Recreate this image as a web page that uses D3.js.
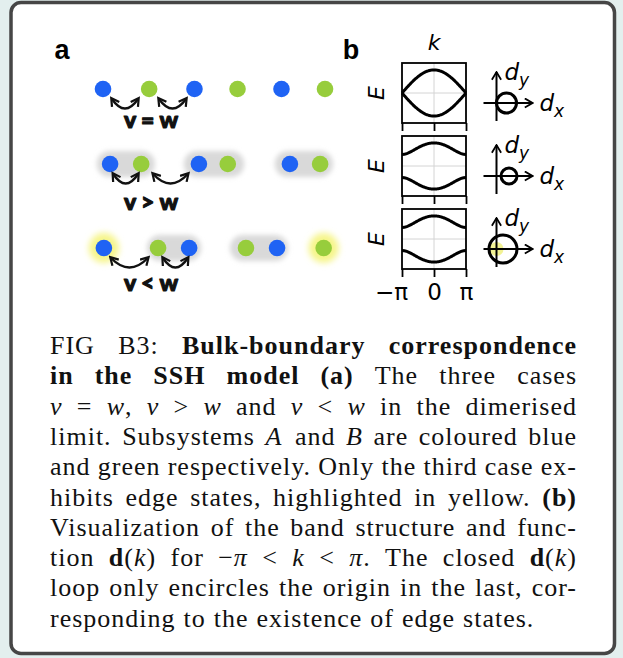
<!DOCTYPE html>
<html>
<head>
<meta charset="utf-8">
<script src="https://cdn.jsdelivr.net/npm/d3@7"></script>
<style>
  html, body { margin: 0; padding: 0; background: #e3efee; }
  svg { display: block; }
</style>
</head>
<body>
<svg width="623" height="658"></svg>
<script>
// ---- data ----
// panel a: site positions along each chain (in lattice units), A = blue, B = green
var chainSites = [
  [0, 1.04, 2.06, 3.03, 4.02, 5],
  [0.16, 0.86, 2.16, 2.81, 4.21, 4.89],
  [0.02, 1.24, 1.94, 3.22, 3.92, 4.97]
];
var chainKinds = [
  ["A", "B", "A", "B", "A", "B"],
  ["A", "B", "A", "B", "A", "B"],
  ["A", "B", "A", "B", "A", "B"]
];
var chainLabels = ["v = w", "v > w", "v < w"];
// hopping arrows [from, to]
var hopArrows = [
  [[0.2, 0.79], [1.26, 1.87]],
  [[0.23, 0.79], [1.13, 1.91]],
  [[0.18, 1.01], [1.35, 1.91]]
];
// dimer bubbles [from, to]
var dimers = [
  [],
  [[-0.14, 1.17], [1.82, 3.18], [3.87, 5.18]],
  [[0.99, 2.21], [2.86, 4.17]]
];
// edge states (site index)
var edgeStates = [[], [], [0, 5]];

// panel b: hoppings for the band plots and d(k) loops
var bandV = [1, 1.5, 0.5];
var bandW = [1, 0.5, 1.5];
var loopV = [1, 1.25, 0.65];
var loopW = [1, 0.8, 1.4];
var kTicks = [-Math.PI, 0, Math.PI];
var kTickLabels = ["\u2212\u03c0", "0", "\u03c0"];

// caption, one entry per printed line (*italic*, **bold**)
var captionLines = [
  "FIG B3: **Bulk-boundary** **correspondence**",
  "**in** **the** **SSH** **model** **(a)** The three cases",
  "*v* = *w*, *v* > *w* and *v* < *w* in the dimerised",
  "limit. Subsystems *A* and *B* are coloured blue",
  "and green respectively. Only the third case ex-",
  "hibits edge states, highlighted in yellow. **(b)**",
  "Visualization of the band structure and func-",
  "tion **d**(*k*) for \u2212*\u03c0* < *k* < *\u03c0*. The closed **d**(*k*)",
  "loop only encircles the origin in the last, cor-",
  "responding to the existence of edge states."
];

var svg = d3.select("svg");
var colA = "#1f63f4", colB = "#97cd3c";

// frame
svg.append("rect")
  .attr("x", 11).attr("y", 2.5)
  .attr("width", 603.5).attr("height", 651)
  .attr("rx", 10)
  .attr("fill", "#fff")
  .attr("stroke", "#464646")
  .attr("stroke-width", 3.5);

var defs = svg.append("defs");
defs.append("filter").attr("id", "blur").attr("x", -0.3).attr("y", -0.5).attr("width", 1.6).attr("height", 2)
  .append("feGaussianBlur").attr("stdDeviation", 2.5);
defs.append("filter").attr("id", "glow").attr("x", -0.5).attr("y", -0.5).attr("width", 2).attr("height", 2)
  .append("feGaussianBlur").attr("stdDeviation", 3);
defs.append("marker")
  .attr("id", "hook")
  .attr("viewBox", "0 0 10 10")
  .attr("refX", 7).attr("refY", 5)
  .attr("markerWidth", 4.6).attr("markerHeight", 4.6)
  .attr("markerUnits", "strokeWidth")
  .attr("orient", "auto-start-reverse")
  .append("path")
  .attr("d", "M1,1 L8,5 L1,9")
  .attr("fill", "none")
  .attr("stroke", "#111")
  .attr("stroke-width", 2);
defs.append("marker")
  .attr("id", "axArrow")
  .attr("viewBox", "0 0 10 10")
  .attr("refX", 9).attr("refY", 5)
  .attr("markerWidth", 5.5).attr("markerHeight", 5.5)
  .attr("markerUnits", "strokeWidth")
  .attr("orient", "auto")
  .append("path")
  .attr("d", "M2,0.8 L9,5 L2,9.2")
  .attr("fill", "none")
  .attr("stroke", "#000")
  .attr("stroke-width", 1.6);

// panel labels
svg.append("text").attr("x", 62).attr("y", 59).text("a")
  .attr("font-family", "Liberation Sans, Arial, sans-serif").attr("font-weight", "bold").attr("font-size", 27)
  .attr("text-anchor", "middle");
svg.append("text").attr("x", 351).attr("y", 59).text("b")
  .attr("font-family", "Liberation Sans, Arial, sans-serif").attr("font-weight", "bold").attr("font-size", 27)
  .attr("text-anchor", "middle");

// ---- panel a ----
var x = d3.scaleLinear().domain([0, 5]).range([103, 325]);
var rowY = [89, 164, 248];
var labelY = [128, 210, 291];

chainSites.forEach(function (sites, r) {
  var g = svg.append("g");
  var y0 = rowY[r];

  g.selectAll("rect.dimer")
    .data(dimers[r])
    .enter().append("rect")
    .attr("class", "dimer")
    .attr("x", function (d) { return x(d[0]); })
    .attr("y", y0 - 13)
    .attr("width", function (d) { return x(d[1]) - x(d[0]); })
    .attr("height", 26)
    .attr("rx", 13)
    .attr("fill", "#d9d9d9")
    .attr("filter", "url(#blur)");

  g.selectAll("circle.edge")
    .data(edgeStates[r])
    .enter().append("circle")
    .attr("class", "edge")
    .attr("cx", function (d) { return x(sites[d]); })
    .attr("cy", y0)
    .attr("r", 15)
    .attr("fill", "#f6f58a")
    .attr("filter", "url(#glow)");

  g.selectAll("circle.site")
    .data(sites)
    .enter().append("circle")
    .attr("class", "site")
    .attr("cx", function (d) { return x(d); })
    .attr("cy", y0)
    .attr("r", 8.3)
    .attr("fill", function (d, i) { return chainKinds[r][i] == "A" ? colA : colB; });

  g.selectAll("path.hop")
    .data(hopArrows[r])
    .enter().append("path")
    .attr("class", "hop")
    .attr("d", function (d) {
      var x1 = x(d[0]), x2 = x(d[1]), ya = y0 + 10;
      return "M" + x1 + "," + ya + " Q" + (x1 + x2) / 2 + "," + (ya + 19) + " " + x2 + "," + ya;
    })
    .attr("fill", "none")
    .attr("stroke", "#111")
    .attr("stroke-width", 2.4)
    .attr("marker-start", "url(#hook)")
    .attr("marker-end", "url(#hook)");

  g.append("text")
    .attr("x", 151).attr("y", labelY[r])
    .attr("text-anchor", "middle")
    .attr("font-family", "Lato, sans-serif")
    .attr("font-weight", 900)
    .attr("font-size", 23)
    .attr("fill", "#111")
    .attr("stroke", "#111")
    .attr("stroke-width", 1.1)
    .attr("stroke-linejoin", "round")
    .text(chainLabels[r]);
});

// ---- panel b ----
var boxTop = [63, 136, 209];
var boxH = 60;
var kx = d3.scaleLinear().domain([-Math.PI, Math.PI]).range([402, 466]);
var kSamples = d3.range(-Math.PI, Math.PI + 1e-9, Math.PI / 60);
var sans = "DejaVu Sans, sans-serif";

svg.append("text")
  .attr("x", 434).attr("y", 50)
  .attr("text-anchor", "middle")
  .attr("font-family", sans).attr("font-style", "italic").attr("font-size", 22)
  .text("k");

bandV.forEach(function (v, i) {
  var w = bandW[i];
  var top = boxTop[i];
  var ey = d3.scaleLinear().domain([-2.6, 2.6]).range([top + boxH, top]);
  var g = svg.append("g");

  // grid
  g.append("line").attr("x1", kx(0)).attr("x2", kx(0)).attr("y1", top).attr("y2", top + boxH)
    .attr("stroke", "#d4d4d4").attr("stroke-width", 1);
  g.append("line").attr("x1", kx.range()[0]).attr("x2", kx.range()[1]).attr("y1", ey(0)).attr("y2", ey(0))
    .attr("stroke", "#d4d4d4").attr("stroke-width", 1);

  // bands E = +/- |v + w e^{ik}|
  [1, -1].forEach(function (s) {
    var line = d3.line()
      .x(function (k) { return kx(k); })
      .y(function (k) { return ey(s * Math.sqrt(v * v + w * w + 2 * v * w * Math.cos(k))); });
    g.append("path").datum(kSamples).attr("d", line)
      .attr("fill", "none").attr("stroke", "#000").attr("stroke-width", 3);
  });

  g.append("rect").attr("x", 402).attr("y", top).attr("width", 64).attr("height", boxH)
    .attr("fill", "none").attr("stroke", "#000").attr("stroke-width", 1.8);

  var ax = g.append("g")
    .attr("transform", "translate(0," + (top + boxH) + ")")
    .call(d3.axisBottom(kx).tickValues(kTicks).tickSize(8).tickPadding(7)
      .tickFormat(function (d, j) { return i == 2 ? kTickLabels[j] : ""; }));
  ax.select(".domain").remove();
  ax.selectAll(".tick line").attr("stroke", "#000").attr("stroke-width", 1.8);
  ax.selectAll(".tick text")
    .attr("font-family", sans).attr("font-size", 23).attr("fill", "#000")
    .attr("dx", function (d, j) { return j == 0 ? -11 : 0; });

  g.append("text")
    .attr("transform", "translate(384," + (top + boxH / 2) + ") rotate(-90)")
    .attr("text-anchor", "middle")
    .attr("font-family", sans).attr("font-style", "italic").attr("font-size", 22)
    .text("E");

  // d(k) loop
  var ox = 496.5, oy = top + boxH / 2 + 10;
  var ds = d3.scaleLinear().domain([0, 1]).range([0, 10]);
  var dg = svg.append("g").attr("transform", "translate(" + ox + "," + oy + ")");
  if (i == 2) {
    dg.append("circle").attr("r", 7).attr("fill", "#eeee70").attr("opacity", 0.75);
  }
  dg.append("circle")
    .attr("cx", ds(loopV[i])).attr("cy", 0).attr("r", ds(loopW[i]))
    .attr("fill", "none").attr("stroke", "#000").attr("stroke-width", 3);
  dg.append("line").attr("x1", -13).attr("y1", 0).attr("x2", 36).attr("y2", 0)
    .attr("stroke", "#000").attr("stroke-width", 2).attr("marker-end", "url(#axArrow)");
  dg.append("line").attr("x1", 0).attr("y1", 18).attr("x2", 0).attr("y2", -31)
    .attr("stroke", "#000").attr("stroke-width", 2).attr("marker-end", "url(#axArrow)");
  var ly = dg.append("text").attr("x", 8).attr("y", -23)
    .attr("font-family", sans).attr("font-style", "italic").attr("font-size", 23);
  ly.append("tspan").text("d");
  ly.append("tspan").attr("dy", 6).attr("font-size", 17).text("y");
  var lx = dg.append("text").attr("x", 43).attr("y", 8)
    .attr("font-family", sans).attr("font-style", "italic").attr("font-size", 23);
  lx.append("tspan").text("d");
  lx.append("tspan").attr("dy", 6).attr("font-size", 17).text("x");
});

// ---- caption (justified) ----
var capLeft = 50, capRight = 577, capY0 = 354, capStep = 30.3;
var serif = "Liberation Serif, Times New Roman, serif";

captionLines.forEach(function (ln, li) {
  var words = ln.split(" ");
  var items = words.map(function (w) {
    var t = svg.append("text")
      .attr("y", capY0 + li * capStep)
      .attr("font-family", serif).attr("font-size", 26).attr("letter-spacing", 1)
      .attr("fill", "#111");
    var parts = w.match(/(\*\*[^*]+\*\*|\*[^*]+\*|[^*]+)/g);
    parts.forEach(function (p) {
      var sp = t.append("tspan");
      if (p.indexOf("**") == 0) sp.attr("font-weight", "bold").text(p.slice(2, -2));
      else if (p.indexOf("*") == 0) sp.attr("font-style", "italic").text(p.slice(1, -1));
      else sp.text(p);
    });
    return { node: t, w: t.node().getBBox().width };
  });
  var total = d3.sum(items, function (d) { return d.w; });
  var last = li == captionLines.length - 1;
  var gap = last ? 8 : (capRight - capLeft - total) / (items.length - 1);
  var cx = capLeft;
  items.forEach(function (d) {
    d.node.attr("x", cx);
    cx += d.w + gap;
  });
});
</script>
</body>
</html>
